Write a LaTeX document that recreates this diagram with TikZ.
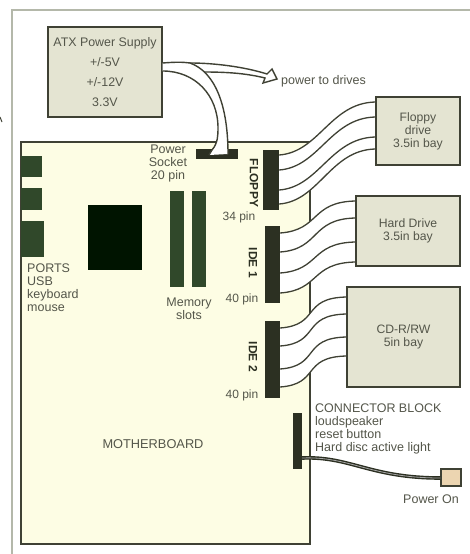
\documentclass[tikz,border=0pt]{standalone}
\usepackage{fontspec}
\setmainfont{Liberation Sans}
\usetikzlibrary{calc}
\definecolor{inkc}{HTML}{3F4134}
\definecolor{txtc}{HTML}{54564A}
\definecolor{boardc}{HTML}{FDFDE4}
\definecolor{boxc}{HTML}{E4E4D2}
\definecolor{connc}{HTML}{2C3022}
\definecolor{slotc}{HTML}{30482A}
\definecolor{framec}{HTML}{B4B8AA}
\tikzset{
  x=1pt,y=-1pt,
  line/.style={draw=inkc,line width=1.4pt},
  drive/.style={line,fill=boxc,rectangle,inner sep=0pt,align=center,text=txtc,
    font=\fontsize{12.2}{13}\selectfont},
  part/.style={fill=connc,rectangle,inner sep=0pt},
  slot/.style={fill=slotc,rectangle,inner sep=0pt},
  lab/.style={text=txtc,inner sep=0pt,align=center,font=\fontsize{12.5}{13}\selectfont},
  lableft/.style={lab,align=left,anchor=west},
  vlab/.style={text=connc,inner sep=0pt,rotate=-90,font=\fontsize{12}{13}\selectfont\bfseries},
  wire/.style={draw=inkc,line width=1.3pt}
}
\newcommand{\wirefill}[6]{%
  \coordinate (sa) at (0,#3); \coordinate (ea) at (0,#5);
  \coordinate (sb) at (0,#4); \coordinate (eb) at (0,#6);
  \fill[white] (#1.east |- sa) .. controls +(40,-3) and +(-45,1) .. (#2.west |- ea)
     -- (#2.west |- eb) .. controls +(-45,1) and +(40,-3) .. (#1.east |- sb) -- cycle;
}
\newcommand{\onewire}[4]{%
  \coordinate (sa) at (0,#3); \coordinate (ea) at (0,#4);
  \draw[wire] (#1.east |- sa) .. controls +(40,-3) and +(-45,1) .. (#2.west |- ea);
}
\begin{document}
\begin{tikzpicture}
\useasboundingbox (0,0) rectangle (470,554);
\fill[white] (0,0) rectangle (470,554);
% outer frame
\draw[framec,line width=1.6pt] (12,554) -- (12,10) -- (470,10);
\draw[inkc,line width=1pt] (0,117) -- (2,122);

% motherboard
\node[line,fill=boardc,rectangle,inner sep=0pt,minimum width=289pt,minimum height=402pt] (board) at (165.5,343) {};

% board parts
\node[slot,minimum width=21pt,minimum height=21pt] (port1) at (31.5,166.5) {};
\node[slot,minimum width=21pt,minimum height=22pt] (port2) at (31.5,199) {};
\node[slot,minimum width=23pt,minimum height=36pt] (port3) at (32.5,239) {};
\node[fill=black!92!green,rectangle,inner sep=0pt,minimum width=54pt,minimum height=65pt] (cpu) at (115,237.5) {};
\node[slot,minimum width=14pt,minimum height=96pt] (mem1) at (177,239) {};
\node[slot,minimum width=14pt,minimum height=96pt] (mem2) at (199,239) {};
\node[part,minimum width=42pt,minimum height=10pt] (socket) at (217,154) {};
\node[part,minimum width=16pt,minimum height=60pt] (fdc) at (271,180) {};
\node[part,minimum width=15pt,minimum height=77pt] (ide1) at (272.5,264.5) {};
\node[part,minimum width=15pt,minimum height=77pt] (ide2) at (272.5,359.5) {};
\node[part,minimum width=9pt,minimum height=56pt] (block) at (297.5,441) {};

% drives
\node[drive,minimum width=114pt,minimum height=90pt,font=\fontsize{12.4}{20}\selectfont] (atx) at (105,72) {ATX Power Supply\\+/-5V\\+/-12V\\3.3V};
\node[drive,minimum width=84pt,minimum height=68pt] (floppy) at (418,131) {Floppy\\drive\\3.5in bay};
\node[drive,minimum width=104pt,minimum height=70pt] (hard) at (408,231) {Hard Drive\\3.5in bay};
\node[drive,minimum width=113pt,minimum height=100pt] (cdrw) at (403.5,337) {\raisebox{7pt}{\begin{tabular}{@{}c@{}}CD-R/RW\\5in bay\end{tabular}}};
\node[drive,fill=boxc!80!orange!90!white,minimum width=20pt,minimum height=17pt] (pwron) at (451,477.5) {};

% ribbons
\wirefill{fdc}{floppy}{155}{204}{102}{149}
\onewire{fdc}{floppy}{155}{102}
\onewire{fdc}{floppy}{170}{117}
\onewire{fdc}{floppy}{190}{137}
\onewire{fdc}{floppy}{204}{149}
\wirefill{ide1}{hard}{233}{293}{201}{262}
\onewire{ide1}{hard}{233}{201}
\onewire{ide1}{hard}{252}{218}
\onewire{ide1}{hard}{273}{242}
\onewire{ide1}{hard}{293}{262}
\wirefill{ide2}{cdrw}{328}{387}{297}{356}
\onewire{ide2}{cdrw}{328}{297}
\onewire{ide2}{cdrw}{346}{314}
\onewire{ide2}{cdrw}{369}{337}
\onewire{ide2}{cdrw}{387}{356}
% redraw drives' left edges over the ribbon ends
\draw[line] (floppy.north west) -- (floppy.south west);
\draw[line] (hard.north west) -- (hard.south west);
\draw[line] (cdrw.north west) -- (cdrw.south west);

% power cable: branch to drives
\coordinate (pa) at (0,63);
\coordinate (pb) at (0,71);
\coordinate (tip1) at (272,69);
\coordinate (tip2) at (277,79);
\coordinate (tip3) at (263,83);
\draw[line,fill=white,line join=miter] (190,63) .. controls (215,63) and (245,67) .. (267,74)
   -- (tip1) -- (tip2) -- (tip3) -- (265,78) .. controls (245,73) and (225,72) .. (203,72) -- cycle;
% power cable: branch to socket
\fill[white] (atx.east |- pa) .. controls (175,62) and (183,62) .. (190,63)
   .. controls (215,72) and (228,105) .. (228,154) -- (209,155)
   -- (212,150) .. controls (218,143) and (218,135) .. (218,128)
   .. controls (218,95) and (195,71) .. (atx.east |- pb) -- cycle;
\draw[line] (atx.east |- pa) .. controls (175,62) and (183,62) .. (190,63)
   .. controls (215,72) and (228,105) .. (228,154);
\draw[line] (atx.east |- pb) .. controls (195,71) and (218,95) .. (218,128)
   .. controls (218,135) and (218,143) .. (212,150) -- (209,155);

% power-on lead
\coordinate (la) at (0,458);
\coordinate (lb) at (0,478);
\draw[draw=connc,line width=3.6pt] (block.east |- la) .. controls (350,456) and (370,478) .. (pwron.west |- lb);
\draw[draw=gray!70,line width=.8pt] (block.east |- la) .. controls (350,456) and (370,478) .. (pwron.west |- lb);

% labels
\node[lableft] (ptd) at (281,81) {power to drives};
\node[lab] (sockl) at (168,163) {Power\\Socket\\20 pin};
\node[vlab] (fl) at (254,183) {FLOPPY};
\node[lab,font=\fontsize{12}{13}\selectfont] (fpin) at (239,217) {34 pin};
\node[vlab] (i1) at (253,263) {IDE 1};
\node[lab,font=\fontsize{12}{13}\selectfont] (i1pin) at (242,299) {40 pin};
\node[vlab] (i2) at (253,357) {IDE 2};
\node[lab,font=\fontsize{12}{13}\selectfont] (i2pin) at (242,395) {40 pin};
\node[lab] (meml) at (189,309) {Memory\\slots};
\node[lableft] (portl) at (27,287.5) {PORTS\\USB\\keyboard\\mouse};
\node[lab,font=\fontsize{12.8}{13}\selectfont] (mb) at (153,444) {MOTHERBOARD};
\node[lableft] (cbl) at (315,428.5) {CONNECTOR BLOCK\\loudspeaker\\reset button\\Hard disc active light};
\node[lab] (pol) at (431,499) {Power On};
\end{tikzpicture}
\end{document}
